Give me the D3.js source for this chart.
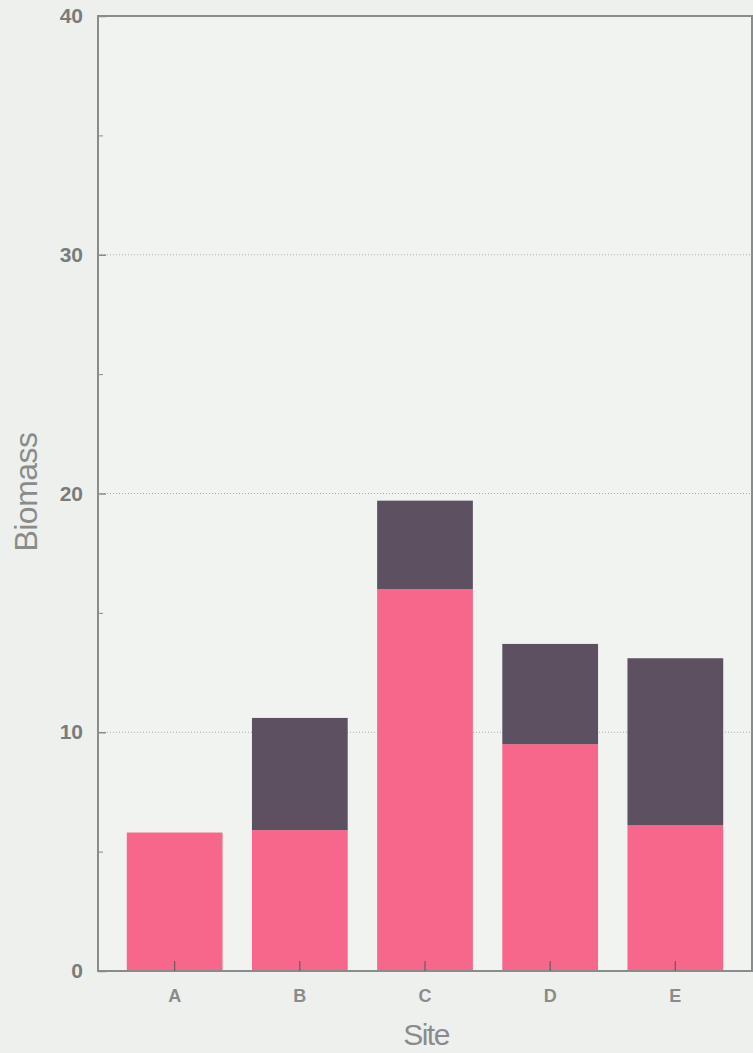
<!DOCTYPE html>
<html><head><meta charset="utf-8">
<script src="https://cdn.jsdelivr.net/npm/d3@7"></script>
<style>
html,body{margin:0;padding:0;background:#eef0ee;}
svg{display:block;}
text{font-family:"Liberation Sans",Arial,sans-serif;}
</style></head>
<body>
<svg id="chart" width="753" height="1053"></svg>
<script>
const sites = ["A","B","C","D","E"];
const lowerValues = [5.8, 5.9, 16.0, 9.5, 6.1];
const upperValues = [0.0, 4.7, 3.7, 4.2, 7.0];
const yTicksMajor = [0,10,20,30,40];
const yTicksMinor = [5,15,25,35];
const seriesColors = ["#f7678b", "#5d5161"];

const svg = d3.select("#chart");
const m = {left:98, top:16, right:1, bottom:82};
const W = 753, H = 1053;
const x = d3.scaleBand().domain(sites).range([m.left, W - m.right]).paddingInner(0.235).paddingOuter(0.23);
const y = d3.scaleLinear().domain([0,40]).range([H - m.bottom, m.top]);

const stackData = sites.map((s,i)=>({site:s, lower:lowerValues[i], upper:upperValues[i]}));
const stack = d3.stack().keys(["lower","upper"])(stackData);

svg.append("rect").attr("x",m.left).attr("y",m.top).attr("width",W-m.right-m.left).attr("height",y(0)-m.top).attr("fill","#f1f3f1");

// gridlines
svg.append("g").selectAll("line").data([10,20,30]).join("line")
  .attr("x1",m.left).attr("x2",W-m.right).attr("y1",d=>y(d)).attr("y2",d=>y(d))
  .attr("stroke","#a9adab").attr("stroke-width",1).attr("stroke-dasharray","1,2");

svg.append("g").selectAll("g").data(stack).join("g")
  .attr("fill",(d,i)=>seriesColors[i])
  .selectAll("rect").data(d=>d.filter(p=>p[1]>p[0])).join("rect")
  .attr("x",d=>x(d.data.site)).attr("width",x.bandwidth())
  .attr("y",d=>y(d[1])).attr("height",d=>y(d[0])-y(d[1]));

// border
const axisColor = "#8a8c8b";
svg.append("rect").attr("x",m.left).attr("y",m.top).attr("width",W-m.right-m.left).attr("height",y(0)-m.top)
  .attr("fill","none").attr("stroke",axisColor).attr("stroke-width",2);

// y axis
const yAxis = d3.axisLeft(y).tickValues(yTicksMajor).tickSizeInner(-8).tickSizeOuter(0).tickPadding(15);
const gy = svg.append("g").attr("transform",`translate(${m.left},0)`).call(yAxis);
gy.select(".domain").remove();
gy.selectAll("line").attr("stroke",axisColor).attr("stroke-width",1.5);
gy.selectAll("text").attr("fill","#7a7c7b").attr("font-size",21).attr("font-weight","bold");
const yMinor = d3.axisLeft(y).tickValues(yTicksMinor).tickSizeInner(-5).tickSizeOuter(0).tickFormat("");
const gy2 = svg.append("g").attr("transform",`translate(${m.left},0)`).call(yMinor);
gy2.select(".domain").remove();
gy2.selectAll("line").attr("stroke",axisColor);

// x axis
const xAxis = d3.axisBottom(x).tickSizeInner(-10).tickSizeOuter(0).tickPadding(18);
const gx = svg.append("g").attr("transform",`translate(0,${y(0)})`).call(xAxis);
gx.select(".domain").remove();
gx.selectAll("line").attr("stroke","#6a5a60").attr("stroke-width",1.2);
gx.selectAll("text").attr("fill","#8a8c8b").attr("font-size",18).attr("font-weight","bold");

svg.append("text").attr("x",426).attr("y",1045).attr("text-anchor","middle")
  .attr("font-size",30).attr("letter-spacing",-1.5).attr("fill","#8a8c8b").text("Site");
svg.append("text").attr("transform","translate(37,492) rotate(-90)").attr("text-anchor","middle")
  .attr("font-size",32).attr("letter-spacing",-0.5).attr("fill","#8a8c8b").text("Biomass");
</script>
</body></html>
